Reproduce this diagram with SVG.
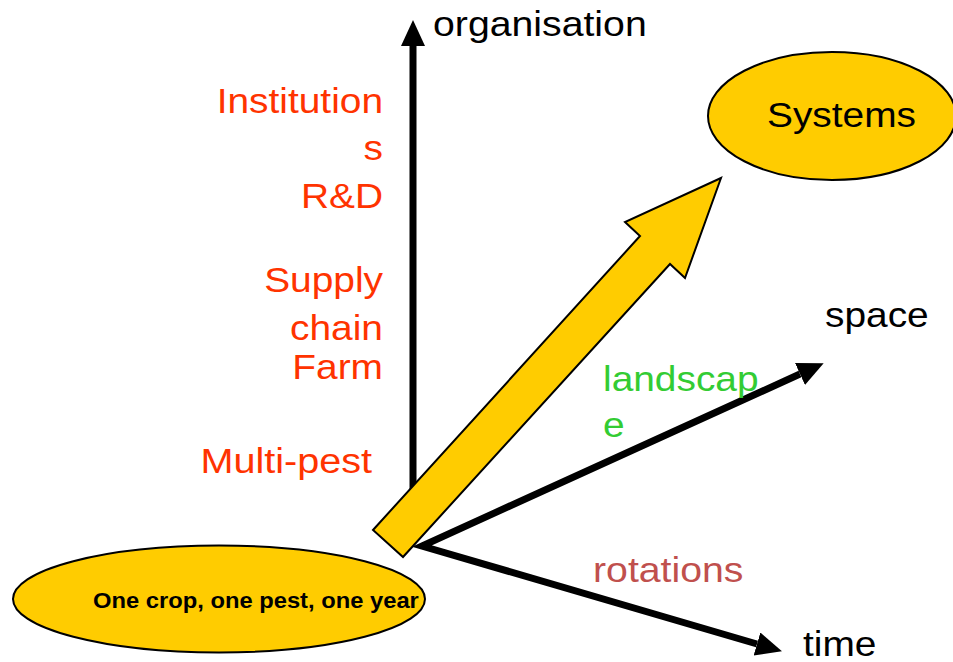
<svg xmlns="http://www.w3.org/2000/svg" width="953" height="662" viewBox="0 0 953 662">
  <style>
    text { font-family: "Liberation Sans", Arial, sans-serif; font-size: 36px; }
    .lvl { fill: #FF3300; text-anchor: end; }
    .axis-label { fill: #000000; }
    .axis { stroke: #000000; stroke-width: 7; fill: none; stroke-linejoin: miter; stroke-miterlimit: 6; }
    .node-shape { fill: #FFCC00; stroke: #000000; stroke-width: 2; }
  </style>
  <defs>
    <!-- arrowhead starts at the line end and points forward -->
    <marker id="head" markerUnits="userSpaceOnUse" markerWidth="28" markerHeight="26" refX="0" refY="12" orient="auto-start-reverse">
      <path d="M0,0 L26,12 L0,24 Z" fill="#000000"/>
    </marker>
  </defs>

  <!-- axes -->
  <g id="connectors">
    <line class="axis" x1="413" y1="540" x2="413" y2="46" marker-end="url(#head)"/>
    <polyline class="axis" points="800,374 422,546 757,644" marker-start="url(#head)" marker-end="url(#head)"/>
  </g>

  <!-- broad progression arrow -->
  <g id="progress-arrow">
    <polygon class="node-shape" points="373,530 640,236 625,222 721,178 685,278 670,264 403,557"/>
  </g>

  <!-- axis labels -->
  <g id="label-organisation"><text class="axis-label" transform="translate(433,36) scale(1.09,1)">organisation</text></g>
  <g id="label-space"><text class="axis-label" transform="translate(825,327) scale(1.08,1)">space</text></g>
  <g id="label-time"><text class="axis-label" transform="translate(803,656) scale(1.08,1)">time</text></g>

  <!-- organisation levels -->
  <g id="levels">
    <text class="lvl" transform="translate(383,113) scale(1.08,1)">Institution</text>
    <text class="lvl" transform="translate(383,160) scale(1.08,1)">s</text>
    <text class="lvl" transform="translate(383,208) scale(1.08,1)">R&amp;D</text>
    <text class="lvl" transform="translate(383,292) scale(1.08,1)">Supply</text>
    <text class="lvl" transform="translate(383,340) scale(1.08,1)">chain</text>
    <text class="lvl" transform="translate(383,379) scale(1.08,1)">Farm</text>
    <text class="lvl" transform="translate(372,473) scale(1.1,1)">Multi-pest</text>
  </g>

  <g id="label-landscape">
    <text transform="translate(603,391) scale(1.08,1)" fill="#33CC33">landscap</text>
    <text transform="translate(603,437) scale(1.08,1)" fill="#33CC33">e</text>
  </g>
  <g id="label-rotations"><text transform="translate(593,582) scale(1.09,1)" fill="#C0504D">rotations</text></g>

  <!-- start and end nodes -->
  <g id="node-systems">
    <ellipse class="node-shape" cx="832" cy="116" rx="124" ry="64"/>
    <text transform="translate(767,127) scale(1.08,1)" fill="#000000">Systems</text>
  </g>
  <g id="node-start">
    <ellipse class="node-shape" cx="219" cy="599" rx="206" ry="53.5"/>
    <text transform="translate(93,608) scale(1.08,1)" fill="#000000" font-weight="bold" style="font-size:22px">One crop, one pest, one year</text>
  </g>
</svg>
